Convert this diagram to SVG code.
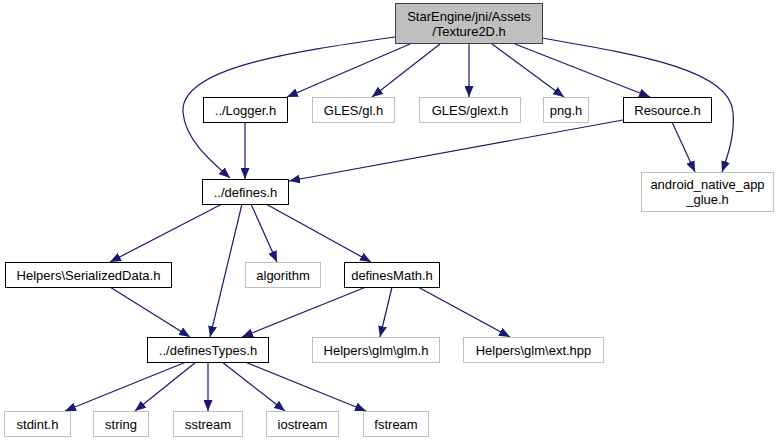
<svg xmlns="http://www.w3.org/2000/svg" width="779" height="443" viewBox="0 0 779 443">
<style>
.n rect{fill:#fff;stroke:#000;stroke-width:1}
.x rect{fill:#fff;stroke:#bfbfbf;stroke-width:1}
.r rect{fill:#bfbfbf;stroke:#404040;stroke-width:1}
text{font-family:"Liberation Sans",Arial,sans-serif;font-size:13px;fill:#000;text-anchor:middle}
#edges path{fill:none;stroke:#191970;stroke-width:1.2;marker-end:url(#a)}
</style>
<defs>
<marker id="a" markerUnits="userSpaceOnUse" markerWidth="11" markerHeight="9" refX="11" refY="4.5" orient="auto"><path d="M0,0 L11,4.5 L0,9 z" fill="#191970"/></marker>
</defs>
<rect width="779" height="443" fill="#fff"/>
<g id="edges">
<path d="M395,37 C290,52 180,68 183,112 C185,140 212,162 230,178"/>
<path d="M410,44 L287,97"/>
<path d="M440,44 L372,97"/>
<path d="M469,44 L469,97"/>
<path d="M492,44 L564,97"/>
<path d="M515,44 L650,97"/>
<path d="M542,38 C640,55 730,70 733,112 C735,135 728,155 722,172"/>
<path d="M672,122 L695,172"/>
<path d="M623,120 L289,181"/>
<path d="M245,122 L245,179"/>
<path d="M222,204 L110,262"/>
<path d="M242,204 L210,337"/>
<path d="M251,204 L277,262"/>
<path d="M266,204 L371,262"/>
<path d="M110,287 L190,337"/>
<path d="M366,287 L242,337"/>
<path d="M392,287 L380,337"/>
<path d="M418,287 L510,337"/>
<path d="M186,362 L65,411"/>
<path d="M196,362 L135,411"/>
<path d="M208,362 L208,411"/>
<path d="M222,362 L285,411"/>
<path d="M245,362 L366,411"/>
</g>
<g id="root" class="r"><rect x="395.5" y="3.5" width="147" height="40"/><text x="469" y="21">StarEngine/jni/Assets</text><text x="469" y="36">/Texture2D.h</text></g>
<g id="logger" class="n"><rect x="203.5" y="97.5" width="84" height="25"/><text x="245.5" y="114.5">../Logger.h</text></g>
<g id="glesgl" class="x"><rect x="312.5" y="97.5" width="82" height="25"/><text x="353.5" y="114.5">GLES/gl.h</text></g>
<g id="glesglext" class="x"><rect x="419.5" y="97.5" width="101" height="25"/><text x="470" y="114.5">GLES/glext.h</text></g>
<g id="png" class="x"><rect x="543.5" y="97.5" width="45" height="25"/><text x="566" y="114.5">png.h</text></g>
<g id="resource" class="n"><rect x="623.5" y="97.5" width="88" height="25"/><text x="667.5" y="114.5">Resource.h</text></g>
<g id="android" class="x"><rect x="641.5" y="172.5" width="132" height="39"/><text x="707.5" y="189">android_native_app</text><text x="707.5" y="204">_glue.h</text></g>
<g id="defines" class="n"><rect x="202.5" y="179.5" width="86" height="25"/><text x="245.5" y="196.5">../defines.h</text></g>
<g id="serialized" class="n"><rect x="5.5" y="262.5" width="166" height="25"/><text x="88.5" y="279.5">Helpers\SerializedData.h</text></g>
<g id="algorithm" class="x"><rect x="245.5" y="262.5" width="75" height="25"/><text x="283" y="279.5">algorithm</text></g>
<g id="definesmath" class="n"><rect x="344.5" y="262.5" width="95" height="25"/><text x="392" y="279.5">definesMath.h</text></g>
<g id="definestypes" class="n"><rect x="147.5" y="337.5" width="121" height="25"/><text x="208" y="354.5">../definesTypes.h</text></g>
<g id="glm" class="x"><rect x="312.5" y="337.5" width="127" height="25"/><text x="376" y="354.5">Helpers\glm\glm.h</text></g>
<g id="ext" class="x"><rect x="463.5" y="337.5" width="140" height="25"/><text x="533.5" y="354.5">Helpers\glm\ext.hpp</text></g>
<g id="stdint" class="x"><rect x="4.5" y="411.5" width="66" height="25"/><text x="37.5" y="428.5">stdint.h</text></g>
<g id="string" class="x"><rect x="93.5" y="411.5" width="55" height="25"/><text x="121" y="428.5">string</text></g>
<g id="sstream" class="x"><rect x="173.5" y="411.5" width="69" height="25"/><text x="208" y="428.5">sstream</text></g>
<g id="iostream" class="x"><rect x="266.5" y="411.5" width="72" height="25"/><text x="302.5" y="428.5">iostream</text></g>
<g id="fstream" class="x"><rect x="363.5" y="411.5" width="65" height="25"/><text x="396" y="428.5">fstream</text></g>
</svg>
